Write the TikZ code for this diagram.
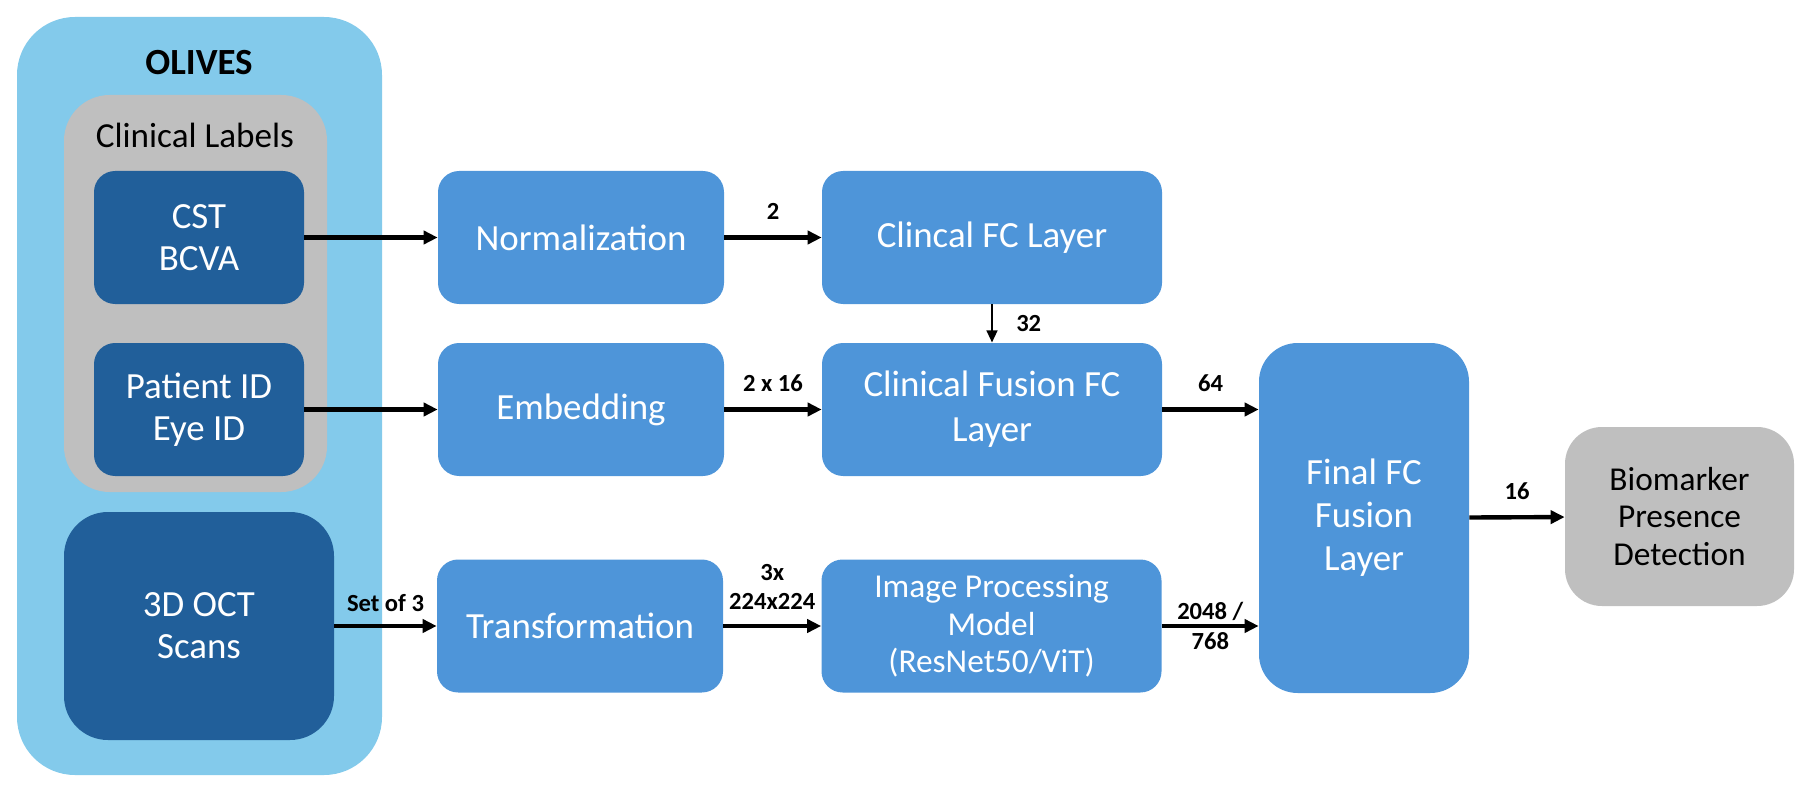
\documentclass[tikz,border=0pt]{standalone}
\usepackage{fontspec}
\setmainfont{Carlito}
\usepackage{xcolor}
\usepackage{tikz}
\usetikzlibrary{arrows.meta, positioning}
\definecolor{olivesblue}{RGB}{131, 202, 235}
\definecolor{labelgray}{RGB}{191, 191, 191}
\definecolor{inputblue}{RGB}{33, 95, 154}
\definecolor{layerblue}{RGB}{78, 149, 217}

\begin{document}
\begin{tikzpicture}[
    inputbox/.style={rectangle, rounded corners=12pt, fill=inputblue, text=white, align=center, font=\fontsize{21}{24}\selectfont},
    layer/.style={rectangle, rounded corners=12pt, fill=layerblue, text=white, align=center, minimum height=2.66cm, font=\fontsize{21}{25.6}\selectfont},
    flow/.style={-{Triangle[length=8pt, width=7.5pt]}, line width=2.5pt},
    dim/.style={font=\bfseries\fontsize{14}{16.8}\selectfont, inner sep=1pt, align=center}
]
    \useasboundingbox (0, 0) rectangle (36.28, 15.92);

    % Dataset
    \node[rectangle, rounded corners=33pt, fill=olivesblue, minimum width=7.30cm, minimum height=15.16cm] (olives) at (3.99, 8.00) {};
    \node[font=\bfseries\fontsize{21}{24}\selectfont] (olivestitle) at (3.98, 14.66) {OLIVES};
    \node[rectangle, rounded corners=26pt, fill=labelgray, minimum width=5.26cm, minimum height=7.94cm] (clinical) at (3.91, 10.05) {};
    \node[font=\fontsize{20}{24}\selectfont] (clinicaltitle) at (3.90, 13.22) {Clinical Labels};
    \node[inputbox, minimum width=4.20cm, minimum height=2.66cm] (cst) at (3.98, 11.17) {CST\\BCVA};
    \node[inputbox, minimum width=4.20cm, minimum height=2.66cm] (ids) at (3.98, 7.73) {Patient ID\\Eye ID};
    \node[inputbox, rounded corners=25pt, minimum width=5.40cm, minimum height=4.56cm] (oct) at (3.98, 3.40) {3D OCT\\Scans};

    % Preprocessing
    \node[layer, minimum width=5.72cm] (norm) at (11.62, 11.17) {Normalization};
    \node[layer, minimum width=5.72cm] (embed) at (11.62, 7.73) {Embedding};
    \node[layer, minimum width=5.72cm] (transform) at (11.60, 3.40) {Transformation};

    % Layers
    \node[layer, minimum width=6.80cm] (clinfc) at (19.84, 11.17) {Clincal FC Layer};
    \node[layer, minimum width=6.80cm] (fusionfc) at (19.84, 7.73) {Clinical Fusion FC\\Layer};
    \node[layer, minimum width=6.80cm, font=\fontsize{19}{21.3}\selectfont] (imgmodel) at (19.83, 3.40) {Image Processing\\Model\\(ResNet50/ViT)};
    \node[layer, rounded corners=22pt, minimum width=4.20cm, minimum height=7.00cm, font=\fontsize{21}{24.5}\selectfont] (finalfc) at (27.28, 5.56) {Final FC\\Fusion\\Layer};
    \node[rectangle, rounded corners=21pt, fill=labelgray, align=center, minimum width=4.58cm, minimum height=3.58cm, font=\fontsize{19}{21.6}\selectfont] (biomarker) at (33.59, 5.59) {Biomarker\\Presence\\Detection};

    % Connections
    \draw[flow] (cst) -- (norm);
    \draw[flow] (ids) -- (embed);
    \draw[flow] (oct) -- node[dim, above=6pt] {Set of 3} (transform);
    \draw[flow] (norm) -- node[dim, above=8pt] {2} (clinfc);
    \draw[flow] (embed) -- node[dim, above=8pt] {2 x 16} (fusionfc);
    \draw[flow] (transform) -- node[dim, above=7pt] {3x\\224x224} (imgmodel);
    \draw[-{Triangle[length=7pt, width=6pt]}, line width=1.6pt] (clinfc) -- node[dim, right=12pt] {32} (fusionfc);
    \draw[flow] (fusionfc.east) -- node[dim, above=8pt] {64} (fusionfc.east -| finalfc.west);
    \draw[flow] (imgmodel.east) -- node[dim] {2048 /\\768} (imgmodel.east -| finalfc.west);
    \draw[flow] (finalfc) -- node[dim, above=8pt] {16} (biomarker);
\end{tikzpicture}
\end{document}
